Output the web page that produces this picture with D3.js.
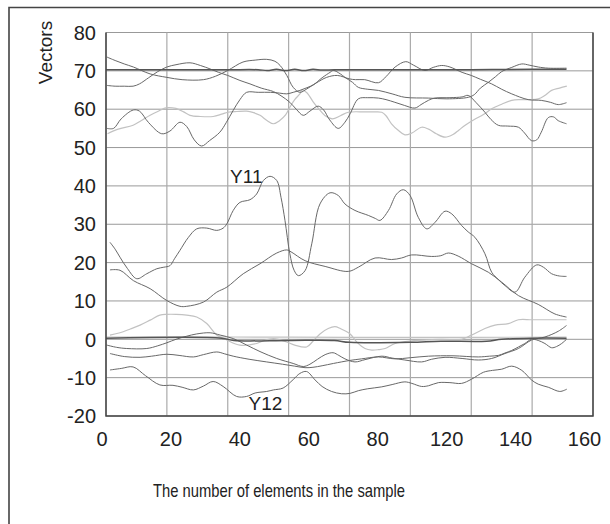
<!DOCTYPE html>
<html><head><meta charset="utf-8">
<script src="https://cdn.jsdelivr.net/npm/d3@7"></script>
<style>
body{margin:0;background:#fff}
svg{display:block}
text{font-family:"Liberation Sans",Arial,sans-serif;fill:#222}
</style>
</head><body>
<svg id="chart" width="610" height="524"></svg>
<script>
// ---------- data ----------
const xTickLabels = ["0","20","40","60","80","120","140","160"];
const xGridValues = [0,20,40,60,80,100,120,140,160];
const yTickValues = [-20,-10,0,10,20,30,40,50,60,70,80];
const yTitle = "Vectors";
const xTitle = "The number of elements in the sample";

// upper group
const flat70 = [[0,70.3],[20,70.3],[40,70.3],[50,70.3],[53,70.1],[56,70.4],[59,70.1],[62,70.4],[65,70.1],[68,70.4],[71,70.2],[75,70.3],[80,70.3],[100,70.3],[120,70.3],[140,70.4],[151.3,70.4]];
const seriesA = [[0.3,73.6],[3,72.7],[6,71.8],[9,71],[14.5,69.2],[20,68.3],[25,67.7],[32,67.7],[36,68.6],[40,70.1],[45,72.3],[49,72.8],[52.8,73],[55.5,72.5],[57.2,71.4],[59.4,68.8],[61.5,65.7],[63.7,64.4],[66,65.3],[69,66.8],[72.5,68.3],[76,68.8],[80,67.9],[82,67.7],[85,67.7],[89.5,66.9],[92,68.5],[95,71],[98.5,72.4],[101,71.5],[104.8,70.1],[107.5,70.9],[110.3,71.4],[113,71],[117,69.6],[120,68.8],[123,67.8],[126.7,66.6],[130,65.2],[133.3,64],[138.7,62.5],[143,62.3],[146,61.8],[148.6,61.2],[151.3,61.7]];
const seriesB = [[0.3,55],[2.5,55],[5,57.5],[9,59.8],[11,59.5],[14,56.5],[18.3,53.6],[21,54.3],[24.3,56.6],[26.5,55.5],[29,52],[31.4,50.4],[34,51.8],[37.4,54],[39.5,56.5],[41.8,59.7],[44,62.5],[46.2,64.4],[50,64.4],[54,64.4],[57,64.2],[59.4,64],[61.5,64.4],[63.7,64.9],[66,65.6],[68.2,66.4],[71,68.2],[73.6,69.6],[74.7,70.1],[77,69.2],[78.5,68.3],[81,67],[82.9,65.7],[86,65.2],[89.5,64.9],[94,64],[98.2,63.1],[105.9,62.9],[112,62.7],[119,63.1],[121,63.8],[123,65.5],[125.6,67],[128,68.5],[130,69.8],[133.3,70.9],[136.6,71.8],[139,71.5],[142,71],[145.3,70.7],[151.3,70.7]];
const seriesC = [[0.3,66.2],[3,66],[6,66],[8.9,66],[11,66.6],[14,68.2],[17,69.8],[20,71],[23,71.6],[27.6,72.1],[31,71.4],[34.2,70.5],[37,69.6],[40,68.8],[44,67.5],[47.3,66.6],[51,65.5],[55,64.6],[57.5,63.5],[60.4,61.8],[62.5,60],[64.8,58.4],[67,59.5],[69.7,60.8],[71.5,59.8],[73.5,57.2],[76.3,55],[78.5,56.6],[80.2,58.8],[82.9,62.7],[86,63],[89.5,62.9],[92,62.5],[94.9,61.8],[98,61],[101.5,60.3],[103.5,61.2],[105.9,62.3],[108,62.9],[113,63],[117,63.2],[119,63.6],[121.5,61.8],[124.5,59.2],[126.5,57.3],[128.9,55.8],[132,55.6],[135.5,55.3],[137.5,53.8],[139.8,51.8],[141.5,52],[143,54],[145.3,57.8],[147,58],[148.6,57],[151.3,56.2]];
const seriesLightUpper = [[0.5,53.6],[4,54.8],[8.9,55.8],[11.5,57],[14.5,58.4],[17,59.4],[20,60.4],[23,60.2],[25.5,59.3],[27.6,58.4],[31,58.1],[35.2,58.1],[38,58.7],[40,59.2],[43,59.4],[46.2,59.5],[48.5,59.1],[50.6,58.4],[53,57],[55,56.2],[57,57],[59,58.5],[60.4,60.5],[62,62.5],[63.7,64],[64.5,65],[66,64.3],[68,62],[70,60],[72,58.3],[74.4,57.5],[77,58.3],[79.6,59.2],[85,59.3],[88,59.3],[90.6,59.2],[92,58.3],[93.8,56.2],[96,54.5],[98.2,53.3],[100.5,53.8],[103.7,55.3],[106,54.8],[108.5,53.6],[111.4,52.7],[114,53.4],[116,54.6],[118,55.8],[121,57.3],[124,58.6],[126.7,60.1],[130,61.3],[133.3,62.3],[136,62.5],[139,62.5],[142,62.7],[144,63.5],[146.4,64.9],[149,65.5],[151.4,66]];

// middle group
const seriesY11 = [[1.3,25.3],[3,23.5],[4.6,21.4],[7,18.5],[10.1,15.8],[13.4,17.1],[16.7,18.4],[19,18.8],[21,19.2],[22.5,21],[24.3,23.2],[27,26.5],[29.8,28.8],[33.1,29],[36.4,28.4],[38.5,29],[39.7,30.1],[41.8,33.6],[44,35.7],[47.3,36.4],[49.5,37.9],[51.7,41.4],[53.9,42.5],[56.1,41.4],[57.5,37],[58.8,31],[60.4,22.3],[61.8,18],[63.2,16.6],[65.4,17.9],[67.6,24.9],[70.3,35.3],[73.6,38.2],[76.3,37.5],[78.5,35.3],[81.8,33.6],[86.2,32.3],[88.5,31.5],[90,31],[92.8,33.6],[95.5,37.9],[97.7,39],[99.9,37.5],[102.6,31.8],[105.4,28.8],[108.1,30.5],[111.4,33.4],[113.6,32.7],[116.8,29.7],[119,28],[121.2,26.6],[124.5,22.3],[126.7,17.5],[129,15.5],[131.1,14],[134.4,12.3],[137.6,16.2],[141.5,19.4],[143.7,18.8],[146.4,17.1],[149,16.5],[151.3,16.4]];
const seriesM2 = [[1.3,18.1],[4.6,18],[9,15.3],[14.5,13.2],[20,10.1],[24.3,8.6],[26.5,8.6],[32,9.7],[36.4,12.3],[39.7,13.6],[45.1,17.1],[50.6,19.7],[56.1,22.5],[59.4,23.3],[60.8,22.8],[65.4,20.5],[72,19],[79.6,17.7],[82.9,18.8],[88.4,21.2],[93.8,20.8],[97.1,21.2],[100.4,22],[107,21.6],[110,21.8],[112.5,22.5],[115.7,21.7],[120.1,19.7],[125.6,17.5],[130,14.9],[135.5,11.4],[142,9.1],[147.5,6.6],[151.3,5.8]];

// lower group
const flat0 = [[0,0.3],[38,0.3],[42,-0.3],[60,-0.3],[75,-0.3],[80,-0.8],[100,-0.8],[110,-0.5],[125,-0.5],[130,0],[140,0.3],[151.3,0.3]];
const flat0Light = [[0,0.6],[40,0.6],[80,0.5],[120,0.5],[151.3,0.6]];
const seriesLightLower = [[1.3,1.1],[4.6,1.7],[8,2.7],[11.2,3.7],[14.5,5],[17.7,6.3],[20,6.5],[23,6.5],[26.5,6.3],[29.8,5.8],[33.1,4.1],[36.4,1.1],[39.7,-0.2],[44,-1.5],[49.5,-1.1],[52,-0.3],[55,0.2],[57,-0.1],[59.4,-0.7],[62,-1.5],[65.9,-2],[68,-0.5],[70.3,1.4],[73,2.8],[75.2,3.3],[77,2.8],[80.2,1.4],[82.5,-0.8],[85.1,-2.4],[87.3,-2.8],[89.5,-2.7],[91.7,-2.4],[95,-1.1],[100.4,-0.4],[110,0],[116.8,0],[120.1,1.1],[124.5,2.8],[127.8,3.7],[132.2,4.1],[135.5,5.1],[139.8,5.1],[145,5.1],[151.3,5.1]];
const seriesD1 = [[0.2,-1.5],[3.5,-2.1],[6.8,-2.4],[13.4,-2.4],[17,-1.7],[20,-0.9],[23,0],[26.5,0.8],[29.8,1.4],[34.2,1.7],[37.5,1.1],[41.8,0.2],[46.2,-1.5],[50.6,-3.2],[56.1,-5],[61.5,-6.3],[64.8,-7.1],[67,-6.5],[69.5,-5.2],[72,-4],[74.6,-3.5],[76.5,-4.2],[78.5,-5.1],[81.8,-5.9],[85.1,-5.3],[90.6,-4.4],[94,-4.9],[98.2,-5.4],[103.7,-5.9],[107,-5.2],[111.4,-4.7],[117,-5],[122.3,-5.4],[126.7,-5],[131.1,-3.7],[135.5,-2.4],[139.8,-0.2],[144.2,0.6],[148.6,2.1],[151.3,3.6]];
const seriesD2 = [[1.3,-3.7],[6,-4.5],[11.2,-4.7],[15,-4.4],[20,-3.9],[24,-4.2],[28.7,-4.6],[32,-4],[36.4,-3.3],[39,-3.8],[41.8,-4.4],[47,-5.2],[52.8,-5.9],[58,-6.5],[62,-7],[65.4,-7.4],[68,-7.3],[71,-6.9],[74.7,-6.3],[80.2,-5.5],[84,-5.1],[89.5,-4.6],[94.9,-5.1],[100,-4.8],[105.9,-4.4],[114,-4.3],[122.3,-4.6],[126,-4.4],[128.9,-4.2],[131,-3.6],[133.3,-2.9],[135.5,-2],[137.6,-1.1],[139.8,0],[142,-0.3],[144.2,-1.1],[146.4,-2.2],[148,-1.9],[149.7,-1.1],[151.3,0]];
const seriesY12 = [[1.3,-8],[5,-7.6],[8.9,-7.2],[13,-9.5],[17.7,-11.9],[22,-12],[25,-12.5],[28.7,-13.2],[32,-12.2],[35.2,-11],[38.5,-12.3],[42.9,-14.9],[46.2,-14.9],[49,-14],[52.8,-13.6],[55,-13.2],[58.2,-12.7],[61.5,-10.5],[63.7,-8.9],[65.9,-8.4],[68.7,-10.6],[71,-12.3],[74.1,-13.6],[77.4,-14.2],[80.2,-14.1],[82.9,-13.4],[86,-12.9],[90.6,-12.4],[94,-11.8],[98.2,-11.1],[100.5,-11.5],[103.7,-12.3],[106,-12.1],[109.2,-11.3],[113,-11.3],[116.8,-11.5],[120.1,-10.4],[124,-8.6],[127,-8.1],[130,-7.8],[133.3,-7],[136.6,-8.1],[139.8,-10.6],[142,-11.7],[145.3,-12.5],[149.1,-13.6],[151.4,-13]];

const seriesLabels = [{text:"Y11", at:[46.1,40.8]},{text:"Y12", at:[52.4,-18.4]}];

// ---------- drawing ----------
const svg = d3.select("#chart");
const x = d3.scaleLinear().domain([0,160]).range([106,593]);
const y = d3.scaleLinear().domain([-20,80]).range([416,32.5]);
const xLabelPos = d3.scalePoint().domain(xTickLabels).range([102,584.5]);

// outer frame (extends past right/bottom edge)
svg.append("path").attr("d","M9,530 L9,7.5 L620,7.5").attr("fill","none").attr("stroke","#444").attr("stroke-width",1.6);

// grid
svg.append("g").selectAll("line").data(yTickValues).join("line")
  .attr("x1",x(0)).attr("x2",x(160)).attr("y1",d=>y(d)).attr("y2",d=>y(d))
  .attr("stroke","#999").attr("stroke-width",1);
svg.append("g").selectAll("line").data(xGridValues).join("line")
  .attr("x1",d=>x(d)).attr("x2",d=>x(d)).attr("y1",y(80)).attr("y2",y(-20))
  .attr("stroke","#aaa").attr("stroke-width",1.2);

const line = d3.line().x(d=>x(d[0])).y(d=>y(d[1])).curve(d3.curveCatmullRom.alpha(0.5));
const lightSeries = [seriesLightUpper, seriesLightLower, flat0Light];
const darkSeries = [seriesA, seriesB, seriesC, seriesY11, seriesM2, seriesD1, seriesD2, seriesY12];
const flatSeries = [flat70, flat0];

svg.append("g").selectAll("path").data(lightSeries).join("path")
  .attr("d",line).attr("fill","none").attr("stroke","#c2c2c2").attr("stroke-width",1.2);
svg.append("g").selectAll("path").data(darkSeries).join("path")
  .attr("d",line).attr("fill","none").attr("stroke","#686868").attr("stroke-width",1);
svg.append("g").selectAll("path").data(flatSeries).join("path")
  .attr("d",line).attr("fill","none").attr("stroke","#555").attr("stroke-width",1.5);

// plot border: left, bottom, right
svg.append("path")
  .attr("d",`M${x(0)},${y(80)} L${x(0)},${y(-20)} L${x(160)},${y(-20)} L${x(160)},${y(80)}`)
  .attr("fill","none").attr("stroke","#444").attr("stroke-width",1.5);

// y tick labels
svg.append("g").selectAll("text").data(yTickValues).join("text")
  .attr("x",96).attr("y",d=>y(d)).attr("dy","0.36em").attr("text-anchor","end")
  .attr("font-size",20).text(d=>d);

// x tick labels
svg.append("g").selectAll("text").data(xTickLabels).join("text")
  .attr("x",d=>xLabelPos(d)).attr("y",446).attr("text-anchor","middle")
  .attr("font-size",20).text(d=>d);

// titles
svg.append("text").attr("transform","translate(52,52.5) rotate(-90)")
  .attr("text-anchor","middle").attr("font-size",19).text(yTitle);
svg.append("text").attr("x",279).attr("y",497).attr("text-anchor","middle")
  .attr("font-size",18.5).attr("textLength",252).attr("lengthAdjust","spacingAndGlyphs")
  .text(xTitle);

// series labels
svg.append("g").selectAll("text").data(seriesLabels).join("text")
  .attr("x",d=>x(d.at[0])).attr("y",d=>y(d.at[1])).attr("text-anchor","middle")
  .attr("font-size",19).text(d=>d.text);
</script>
</body></html>
